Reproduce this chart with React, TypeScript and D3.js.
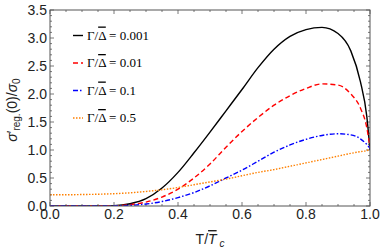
import * as d3 from 'd3';
import { useRef, useEffect } from 'react';

// T / Tc grid shared by all curves
const tGrid = [0, 0.05, 0.1, 0.15, 0.2, 0.25, 0.3, 0.35, 0.4, 0.45, 0.5, 0.55, 0.6, 0.65, 0.7, 0.75, 0.8, 0.85, 0.9, 0.94, 0.97, 0.99, 1.0];

const gamma0001 = [0, 0, 0, 0.001, 0.006, 0.04, 0.13, 0.32, 0.6, 0.95, 1.32, 1.7, 2.08, 2.47, 2.8, 3.03, 3.15, 3.19, 3.08, 2.77, 2.22, 1.6, 1.0];
const gamma001 = [0, 0, 0, 0, 0.003, 0.025, 0.07, 0.16, 0.3, 0.5, 0.75, 1.05, 1.33, 1.58, 1.8, 1.97, 2.1, 2.18, 2.16, 2.0, 1.75, 1.4, 1.05];
const gamma01 = [0, 0, 0, 0, 0.002, 0.012, 0.035, 0.08, 0.15, 0.24, 0.36, 0.5, 0.64, 0.8, 0.96, 1.09, 1.19, 1.26, 1.29, 1.27, 1.2, 1.1, 1.03];
const gamma05 = [0.2, 0.2, 0.205, 0.21, 0.22, 0.235, 0.26, 0.29, 0.33, 0.38, 0.43, 0.48, 0.54, 0.6, 0.65, 0.71, 0.77, 0.83, 0.89, 0.94, 0.97, 0.99, 1.01];

const legendValues = ['0.001', '0.01', '0.1', '0.5'];
const xTicks = [0, 0.2, 0.4, 0.6, 0.8, 1.0];
const yTicks = [0, 0.5, 1.0, 1.5, 2.0, 2.5, 3.0, 3.5];

const series = [
  { values: gamma0001, color: '#000000', dash: null },
  { values: gamma001, color: '#ff0000', dash: '5,3' },
  { values: gamma01, color: '#0000ff', dash: '5,2,1.5,2' },
  { values: gamma05, color: '#ff8000', dash: '1.5,1.5' },
];

const sans = 'Liberation Sans, Arial, sans-serif';

export default function App() {
  const ref = useRef(null);
  const width = 382;
  const height = 252;
  const left = 50, right = 370, top = 10, bottom = 206;

  useEffect(() => {
    const svg = d3.select(ref.current);
    svg.selectAll('*').remove();

    const x = d3.scaleLinear().domain([0, 1]).range([left, right]);
    const y = d3.scaleLinear().domain([0, 3.5]).range([bottom, top]);
    const frame = '#555';

    // ticks (inward, mirrored on all sides)
    const g = svg.append('g').attr('stroke', frame).attr('stroke-width', 0.8);
    d3.range(0, 1.0001, 0.05).forEach((t, i) => {
      const len = i % 4 === 0 ? 4 : 2;
      g.append('line').attr('x1', x(t)).attr('x2', x(t)).attr('y1', bottom).attr('y2', bottom - len);
      g.append('line').attr('x1', x(t)).attr('x2', x(t)).attr('y1', top).attr('y2', top + len);
    });
    d3.range(0, 3.5001, 0.1).forEach((v, i) => {
      const len = i % 5 === 0 ? 4 : 2;
      g.append('line').attr('x1', left).attr('x2', left + len).attr('y1', y(v)).attr('y2', y(v));
      g.append('line').attr('x1', right).attr('x2', right - len).attr('y1', y(v)).attr('y2', y(v));
    });

    // curves
    const line = d3.line()
      .x((d, i) => x(tGrid[i]))
      .y((d) => y(d))
      .curve(d3.curveMonotoneX);
    const clip = svg.append('clipPath').attr('id', 'plotClip');
    clip.append('rect').attr('x', left).attr('y', top).attr('width', right - left).attr('height', bottom - top);
    svg.append('g')
      .attr('clip-path', 'url(#plotClip)')
      .selectAll('path')
      .data(series)
      .join('path')
      .attr('d', (s) => line(s.values))
      .attr('fill', 'none')
      .attr('stroke', (s) => s.color)
      .attr('stroke-width', 1.4)
      .attr('stroke-dasharray', (s) => s.dash);

    // frame
    svg.append('rect')
      .attr('x', left).attr('y', top)
      .attr('width', right - left).attr('height', bottom - top)
      .attr('fill', 'none').attr('stroke', frame).attr('stroke-width', 1);

    // tick labels
    svg.append('g')
      .selectAll('text')
      .data(xTicks)
      .join('text')
      .attr('x', (d) => x(d))
      .attr('y', 219)
      .attr('text-anchor', 'middle')
      .attr('font-family', sans)
      .attr('font-size', 14)
      .attr('fill', '#222')
      .text((d) => d.toFixed(1));
    svg.append('g')
      .selectAll('text')
      .data(yTicks)
      .join('text')
      .attr('x', 47)
      .attr('y', (d) => y(d) + 5)
      .attr('text-anchor', 'end')
      .attr('font-family', sans)
      .attr('font-size', 14)
      .attr('fill', '#222')
      .text((d) => d.toFixed(1));

    // axis labels
    const xl = svg.append('text')
      .attr('x', 210)
      .attr('y', 244)
      .attr('text-anchor', 'middle')
      .attr('font-family', sans)
      .attr('font-size', 14)
      .attr('fill', '#222');
    xl.append('tspan').text('T/');
    xl.append('tspan').attr('font-style', 'italic').style('text-decoration', 'overline').text('T');
    xl.append('tspan').attr('font-style', 'italic').attr('font-size', 10).attr('dy', 3).text(' c');

    const yl = svg.append('text')
      .attr('transform', 'translate(17,110) rotate(-90)')
      .attr('text-anchor', 'middle')
      .attr('font-family', sans)
      .attr('font-size', 14)
      .attr('fill', '#222');
    yl.append('tspan').attr('font-style', 'italic').text('\u03c3');
    yl.append('tspan').text('\u2032');
    yl.append('tspan').attr('font-size', 10).attr('dy', 3).text('reg.');
    yl.append('tspan').attr('dy', -3).text('(0)/');
    yl.append('tspan').attr('font-style', 'italic').text('\u03c3');
    yl.append('tspan').attr('font-size', 10).attr('dy', 3).text('0');

    // legend
    const leg = svg.append('g')
      .selectAll('g')
      .data(series)
      .join('g')
      .attr('transform', (s, i) => 'translate(0,' + (35.5 + i * 27.5) + ')');
    leg.append('line')
      .attr('x1', 73).attr('x2', 83).attr('y1', 0).attr('y2', 0)
      .attr('stroke', (s) => s.color)
      .attr('stroke-width', 1.4)
      .attr('stroke-dasharray', (s) => s.dash);
    const lt = leg.append('text')
      .attr('x', 87)
      .attr('y', 4)
      .attr('font-family', 'Liberation Serif, Times New Roman, serif')
      .attr('font-size', 13)
      .attr('fill', '#000');
    lt.append('tspan').text('\u0393/');
    lt.append('tspan').style('text-decoration', 'overline').text('\u0394');
    lt.append('tspan').text((s, i) => ' = ' + legendValues[i]);
  });

  return (
    <svg ref={ref} width={width} height={height} style={{ position: 'absolute', left: 0, top: 0, background: '#fff' }}>
    </svg>
  );
}
